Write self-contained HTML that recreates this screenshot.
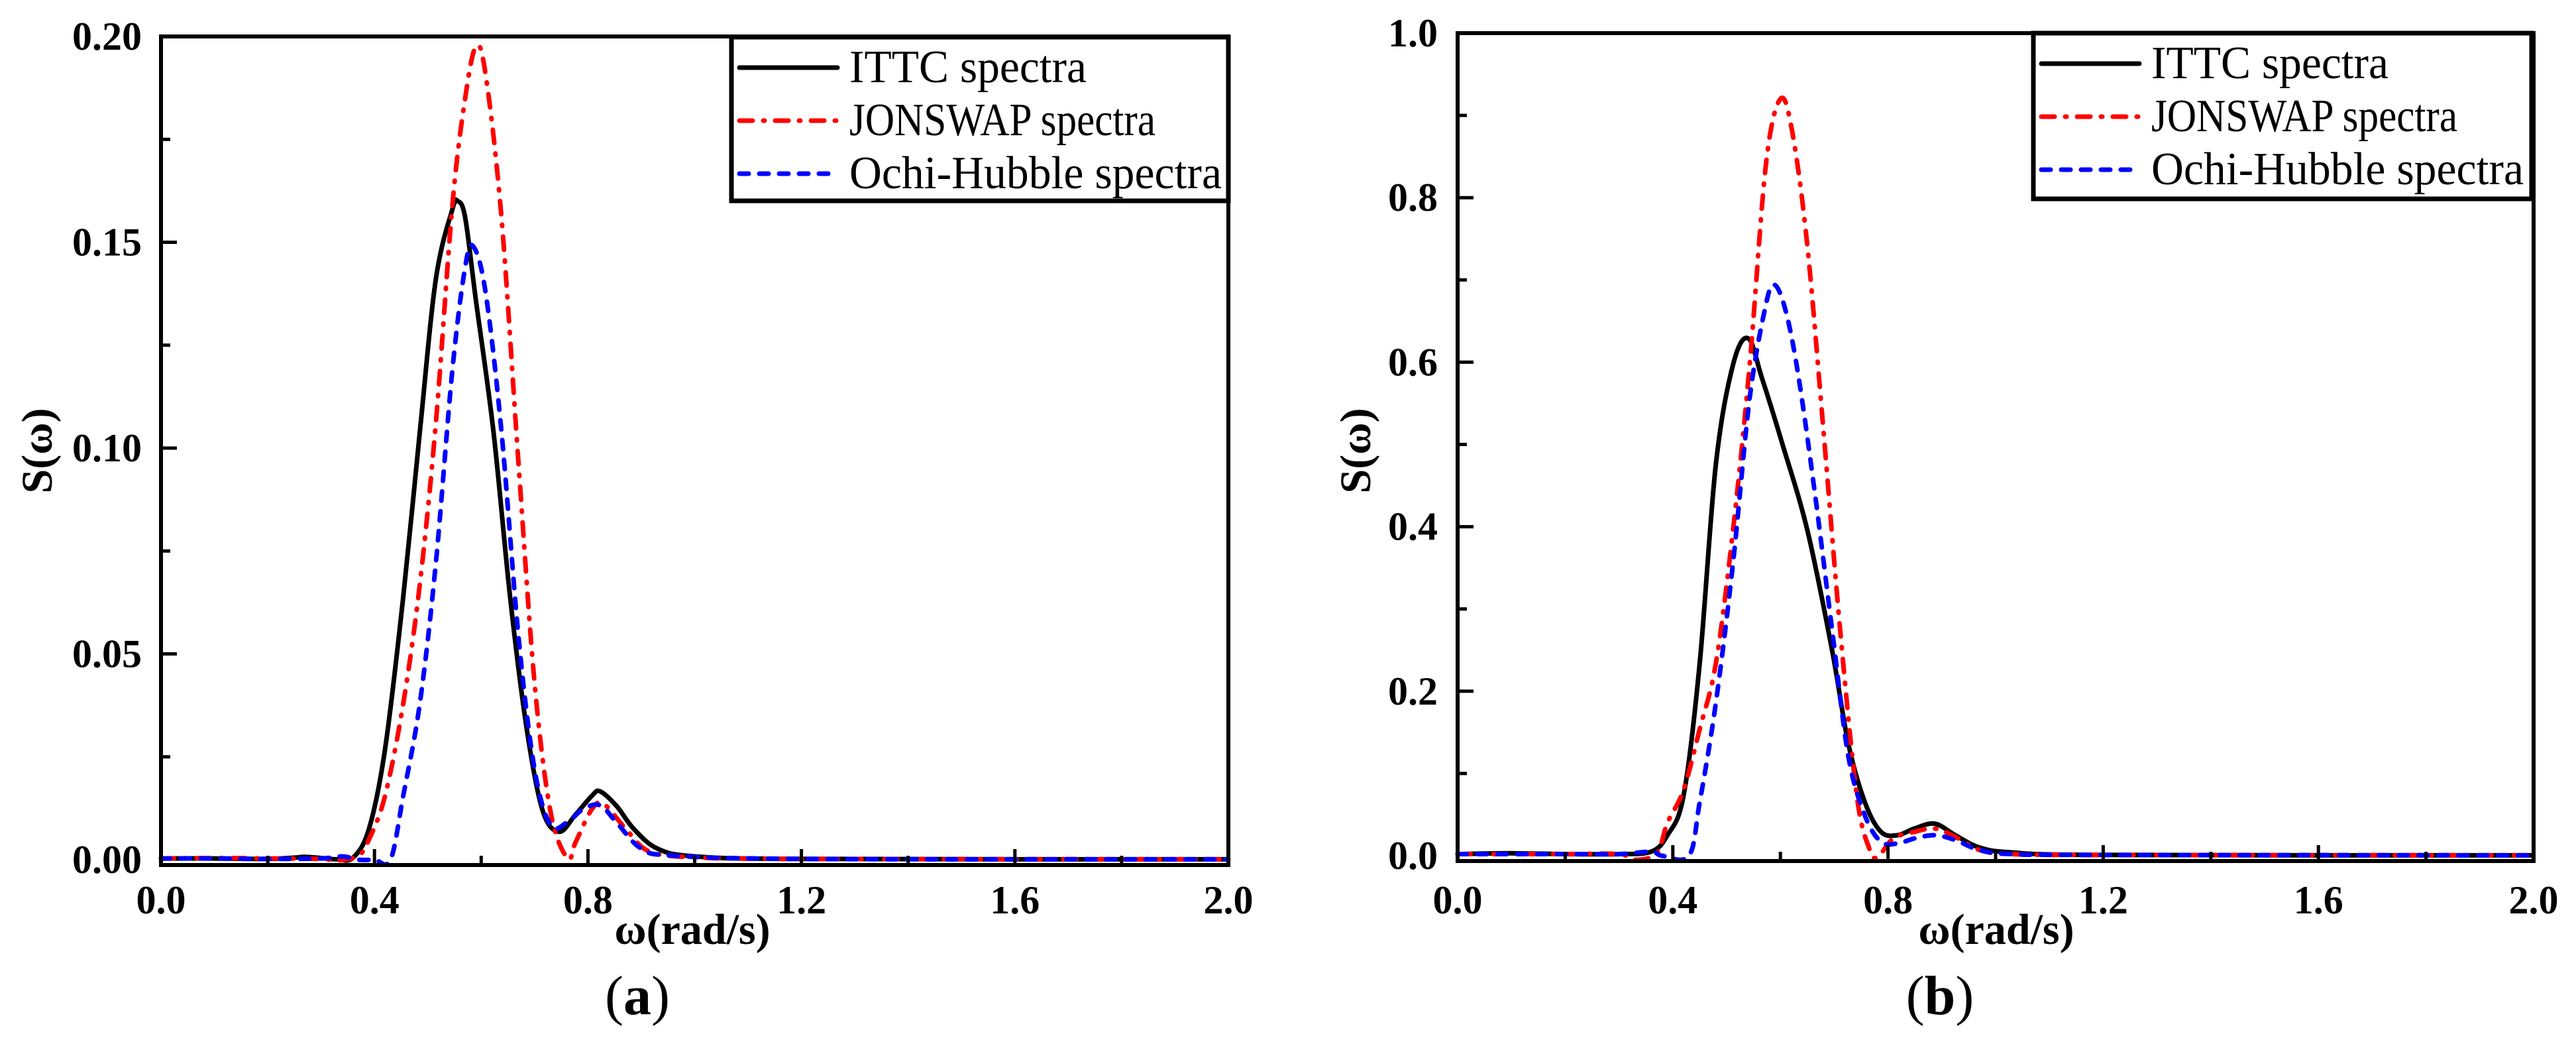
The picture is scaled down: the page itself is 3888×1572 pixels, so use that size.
<!DOCTYPE html>
<html><head><meta charset="utf-8"><style>
html,body{margin:0;padding:0;background:#fff;}
svg{display:block;}
text{font-family:"Liberation Serif",serif;}
</style></head><body>
<svg id="fig" width="3888" height="1572" viewBox="0 0 3888 1572" xmlns="http://www.w3.org/2000/svg">
<g id="pa"></g>
<g id="pb"></g>
</svg>
<script>
// ---- data panel (a) ----
const ittcA_x = [0,0.1,0.2,0.25,0.27,0.3,0.33,0.36,0.39,0.42,0.454,0.485,0.515,0.546,0.556,0.57,0.59,0.623,0.654,0.685,0.715,0.746,0.777,0.808,0.823,0.854,0.885,0.93,1.0,1.2,2.0];
const ittcA_y = [0.0003,0.0003,0.0002,0.0005,0.0007,0.0004,0.0001,0.0005,0.0076,0.027,0.064,0.104,0.141,0.158,0.160,0.156,0.136,0.104,0.064,0.032,0.012,0.0068,0.011,0.0156,0.0166,0.013,0.0076,0.0027,0.0008,0.0002,0.0001];
const jonA_x = [0,0.1,0.2,0.3,0.33,0.37,0.39,0.42,0.454,0.485,0.515,0.546,0.57,0.59,0.608,0.638,0.67,0.70,0.73,0.762,0.777,0.808,0.83,0.87,0.915,1.0,1.2,2.0];
const jonA_y = [0.0003,0.0004,0.0003,0.0002,-0.0002,0.001,0.005,0.0156,0.038,0.067,0.106,0.159,0.185,0.1975,0.191,0.156,0.096,0.043,0.0116,0.0003,0.0043,0.0124,0.0135,0.0076,0.002,0.0006,0.0002,0.0001];
const ochA_x = [0,0.1,0.2,0.3,0.34,0.37,0.4,0.43,0.454,0.485,0.515,0.546,0.57,0.585,0.608,0.638,0.67,0.70,0.73,0.762,0.792,0.823,0.854,0.9,0.96,1.2,2.0];
const ochA_y = [0.0003,0.0003,0.0002,0.0003,0.0008,0.0,0.0,0.0,0.0156,0.038,0.072,0.119,0.144,0.149,0.138,0.104,0.054,0.022,0.0084,0.0092,0.0124,0.0132,0.009,0.0027,0.001,0.0002,0.0001];
// ---- data panel (b) ----
const ittcB_x = [0,0.1,0.2,0.3,0.36,0.39,0.42,0.45,0.48,0.512,0.54,0.566,0.604,0.65,0.696,0.726,0.757,0.787,0.818,0.849,0.887,0.925,0.97,1.03,1.2,2.0];
const ittcB_y = [0.002,0.003,0.002,0.002,0.005,0.025,0.073,0.234,0.476,0.597,0.629,0.58,0.5,0.396,0.25,0.137,0.065,0.029,0.025,0.033,0.039,0.025,0.01,0.004,0.001,0.0005];
const jonB_x = [0,0.1,0.2,0.3,0.33,0.37,0.39,0.42,0.45,0.48,0.512,0.543,0.573,0.60,0.622,0.65,0.68,0.711,0.742,0.765,0.78,0.81,0.849,0.887,0.925,0.97,1.03,1.2,2.0];
const jonB_y = [0.002,0.002,0.002,0.002,-0.005,0.003,0.04,0.08,0.154,0.234,0.396,0.598,0.84,0.92,0.88,0.742,0.517,0.275,0.073,0.009,-0.002,0.021,0.029,0.033,0.023,0.007,0.002,0.001,0.0005];
const ochB_x = [0,0.1,0.2,0.3,0.36,0.38,0.43,0.45,0.48,0.512,0.543,0.573,0.589,0.61,0.634,0.665,0.696,0.726,0.757,0.787,0.818,0.849,0.887,0.925,0.97,1.03,1.2,2.0];
const ochB_y = [0.002,0.002,0.002,0.002,0.005,0.0,0.0,0.065,0.186,0.356,0.557,0.67,0.694,0.662,0.581,0.436,0.275,0.122,0.049,0.017,0.015,0.021,0.025,0.019,0.007,0.002,0.001,0.0005];
// ---- ticks ----
const xTickVals = [0,0.4,0.8,1.2,1.6,2.0];
const xTickLabels = ["0.0","0.4","0.8","1.2","1.6","2.0"];
const yTickValsA = [0,0.05,0.10,0.15,0.20];
const yTickLabelsA = ["0.00","0.05","0.10","0.15","0.20"];
const yTickValsB = [0,0.2,0.4,0.6,0.8,1.0];
const yTickLabelsB = ["0.0","0.2","0.4","0.6","0.8","1.0"];
const seriesNames = ["ITTC spectra","JONSWAP spectra","Ochi-Hubble spectra"];

const NS="http://www.w3.org/2000/svg";
function mk(parent,tag,attrs,txt){const e=document.createElementNS(NS,tag);for(const k in attrs)e.setAttribute(k,attrs[k]);if(txt!==undefined)e.textContent=txt;parent.appendChild(e);return e;}
function pathD(xs,ys,sx,sy){
  const P=xs.map((x,i)=>[sx(x),sy(ys[i])]);
  let d="M"+P[0][0].toFixed(1)+","+P[0][1].toFixed(1);
  for(let i=0;i<P.length-1;i++){
    const p0=P[Math.max(0,i-1)],p1=P[i],p2=P[i+1],p3=P[Math.min(P.length-1,i+2)];
    const t=6;
    const c1=[p1[0]+(p2[0]-p0[0])/t,p1[1]+(p2[1]-p0[1])/t];
    const c2=[p2[0]-(p3[0]-p1[0])/t,p2[1]-(p3[1]-p1[1])/t];
    d+=" C"+c1[0].toFixed(1)+","+c1[1].toFixed(1)+" "+c2[0].toFixed(1)+","+c2[1].toFixed(1)+" "+p2[0].toFixed(1)+","+p2[1].toFixed(1);
  }
  return d;
}
const styles=[{c:"#000",dash:"none"},{c:"#ff0000",dash:"20 16 2 16"},{c:"#0000ff",dash:"14 16"}];

function panel(g,cfg){
  const {x0,x1,yTop,yZero,yMax,yTicks,yLabels,minorStep,series,leg,cap,capX,titleX,ylabX,ylabRight}=cfg;
  const sx=v=>x0+(x1-x0)*v/2.0;
  const sy=v=>yZero-(yZero-yTop)*v/yMax;
  const axBottom=yZero+8;
  series.forEach((s,i)=>{
    const p=mk(g,"path",{d:pathD(s[0],s[1],sx,sy),fill:"none",stroke:styles[i].c,"stroke-width":7,"stroke-dasharray":styles[i].dash,"stroke-linecap":i?"round":"butt","stroke-linejoin":"round"});
    
    
  });
  const fr=mk(g,"rect",{x:x0,y:yTop,width:x1-x0,height:axBottom-yTop,fill:"none",stroke:"#000","stroke-width":6});
  
  
  for(let v=0.2;v<2.0-1e-6;v+=0.2){
    const major=Math.abs(v/0.4-Math.round(v/0.4))<1e-6;
    const t=mk(g,"line",{x1:sx(v),x2:sx(v),y1:axBottom,y2:axBottom-(major?24:14),stroke:"#000","stroke-width":5});
    
    
  }
  xTickVals.forEach((v,i)=>{
    const t=mk(g,"text",{x:sx(v),y:1378,"text-anchor":"middle","font-size":60,"font-weight":"bold"},xTickLabels[i]);
    
    
  });
  for(let v=minorStep;v<yMax-1e-9;v+=minorStep){
    const major=Math.abs(v/(minorStep*2)-Math.round(v/(minorStep*2)))<1e-6;
    const t=mk(g,"line",{x1:x0,x2:x0+(major?24:14),y1:sy(v),y2:sy(v),stroke:"#000","stroke-width":5});
    
    
  }
  yTicks.forEach((v,i)=>{
    const t=mk(g,"text",{x:ylabRight,y:sy(v)+20,"text-anchor":"end","font-size":60,"font-weight":"bold"},yLabels[i]);
    
    
  });
  const xt=mk(g,"text",{x:titleX,y:1424,"text-anchor":"middle","font-size":66,"font-weight":"bold"},"ω(rad/s)");
  
  
  const yt=mk(g,"text",{x:0,y:0,"text-anchor":"middle","font-size":66,"font-weight":"bold",transform:"translate("+ylabX+",680) rotate(-90)"},"S(ω)");
  
  
  const ct=mk(g,"text",{x:capX,y:1530,"text-anchor":"middle","font-size":84});
  
  
  mk(ct,"tspan",{},"(");mk(ct,"tspan",{"font-weight":"bold"},cap);mk(ct,"tspan",{},")");
  const lg=mk(g,"g",{});
  
  
  const lb=mk(lg,"rect",{x:leg.x,y:leg.y,width:leg.w,height:leg.h,fill:"#fff",stroke:"#000","stroke-width":7});
  
  
  seriesNames.forEach((n,i)=>{
    const cy=leg.y+46+i*80;
    const ln=mk(lg,"line",{x1:leg.x+12,x2:leg.x+160,y1:cy,y2:cy,stroke:styles[i].c,"stroke-width":7,"stroke-dasharray":styles[i].dash,"stroke-linecap":"round"});
    
    
    const widths=[358,462,562];
    const tx=mk(lg,"text",{x:leg.x+178,y:cy+22,"font-size":70,textLength:widths[i],lengthAdjust:"spacingAndGlyphs"},n);
    
    
  });
}
panel(document.getElementById("pa"),{x0:243,x1:1854,yTop:55,yZero:1297,yMax:0.20,yTicks:yTickValsA,yLabels:yTickLabelsA,minorStep:0.025,
  series:[[ittcA_x,ittcA_y],[jonA_x,jonA_y],[ochA_x,ochA_y]],leg:{x:1104,y:56,w:750,h:247},cap:"a",capX:962,titleX:1045,ylabX:78,ylabRight:214});
panel(document.getElementById("pb"),{x0:2200,x1:3824,yTop:50,yZero:1291,yMax:1.0,yTicks:yTickValsB,yLabels:yTickLabelsB,minorStep:0.1,
  series:[[ittcB_x,ittcB_y],[jonB_x,jonB_y],[ochB_x,ochB_y]],leg:{x:3069,y:50,w:752,h:250},cap:"b",capX:2928,titleX:3013,ylabX:2068,ylabRight:2170});
</script>
</body></html>
